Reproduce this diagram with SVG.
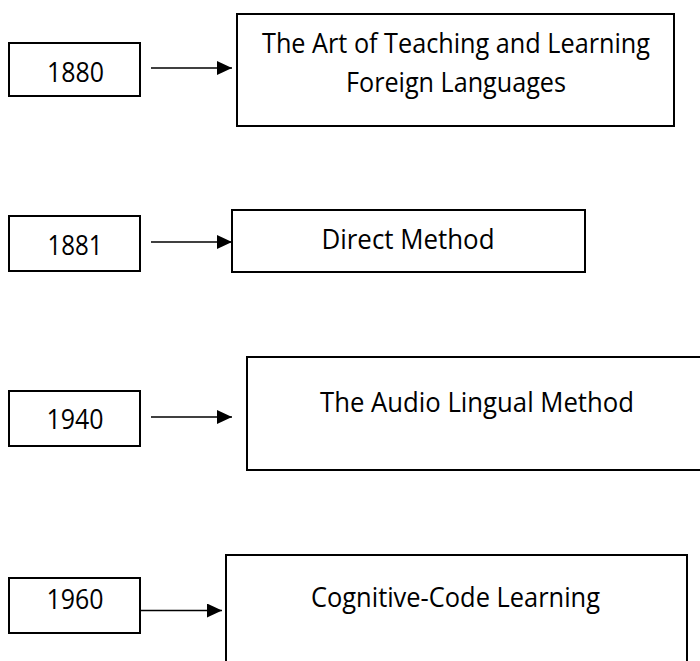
<svg xmlns="http://www.w3.org/2000/svg" width="700" height="661" viewBox="0 0 700 661">
  <style>
    .box { fill: #ffffff; stroke: #000000; stroke-width: 2; }
    .lbl { font-family: "Open Sans", "Noto Sans", "Liberation Sans", sans-serif; font-size: 27px; fill: #000000; text-anchor: middle; }
    .conn { stroke: #000000; stroke-width: 1.3; fill: none; marker-end: url(#arrow); }
  </style>
  <defs>
    <marker id="arrow" viewBox="0 0 15 14" refX="15" refY="7" markerWidth="15" markerHeight="14" markerUnits="userSpaceOnUse" orient="auto">
      <path d="M0,0 L15,7 L0,14 z" fill="#000000"/>
    </marker>
  </defs>
  <rect x="0" y="0" width="700" height="661" fill="#ffffff"/>

  <g id="year-1880">
    <rect class="box" x="9" y="43" width="131" height="53"/>
    <text class="lbl" x="75.5" y="82" textLength="57" lengthAdjust="spacingAndGlyphs">1880</text>
  </g>
  <g id="art-teaching">
    <rect class="box" x="237" y="14" width="437" height="112"/>
    <text class="lbl" x="456" y="53" textLength="388" lengthAdjust="spacingAndGlyphs">The Art of Teaching and Learning</text>
    <text class="lbl" x="456" y="92" textLength="220" lengthAdjust="spacingAndGlyphs">Foreign Languages</text>
  </g>

  <g id="year-1881">
    <rect class="box" x="9" y="216" width="131" height="55"/>
    <text class="lbl" x="75" y="255" textLength="55" lengthAdjust="spacingAndGlyphs">1881</text>
  </g>
  <g id="direct-method">
    <rect class="box" x="232" y="210" width="353" height="62"/>
    <text class="lbl" x="408" y="249" textLength="173" lengthAdjust="spacingAndGlyphs">Direct Method</text>
  </g>

  <g id="year-1940">
    <rect class="box" x="9" y="391" width="131" height="55"/>
    <text class="lbl" x="75" y="429" textLength="57" lengthAdjust="spacingAndGlyphs">1940</text>
  </g>
  <g id="audio-lingual">
    <rect class="box" x="247" y="357" width="470" height="113"/>
    <text class="lbl" x="477" y="412" textLength="314" lengthAdjust="spacingAndGlyphs">The Audio Lingual Method</text>
  </g>

  <g id="year-1960">
    <rect class="box" x="9" y="578" width="131" height="55"/>
    <text class="lbl" x="75" y="609" textLength="57" lengthAdjust="spacingAndGlyphs">1960</text>
  </g>
  <g id="cognitive-code">
    <rect class="box" x="226" y="555" width="461" height="120"/>
    <text class="lbl" x="455.5" y="607" textLength="289" lengthAdjust="spacingAndGlyphs">Cognitive-Code Learning</text>
  </g>

  <g id="connectors">
    <line class="conn" x1="151" y1="68" x2="232" y2="68"/>
    <line class="conn" x1="151" y1="242" x2="232" y2="242"/>
    <line class="conn" x1="151" y1="417" x2="232" y2="417"/>
    <line class="conn" x1="141" y1="610.5" x2="222" y2="610.5"/>
  </g>
</svg>
